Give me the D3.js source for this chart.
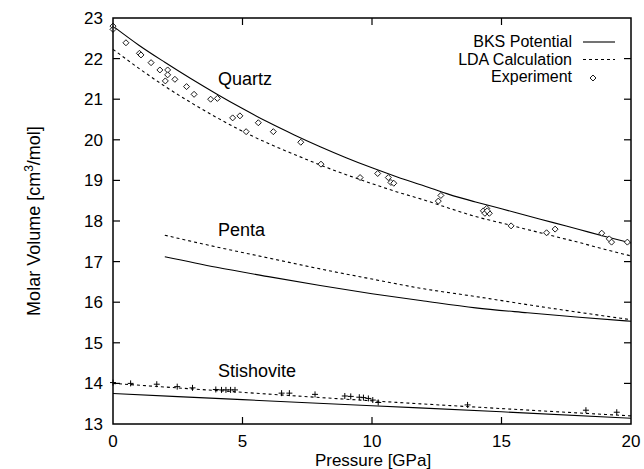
<!DOCTYPE html>
<html>
<head>
<meta charset="utf-8">
<script src="https://cdn.jsdelivr.net/npm/d3@7"></script>
<style>
body{margin:0;background:#fff;}
text{font-family:"Liberation Sans",Arial,sans-serif;fill:#000;}
</style>
</head>
<body>
<svg id="chart" width="644" height="469"></svg>
<script>
// pressure samples for the model curves [GPa]
var quartzP   = [0,1,2,3,4,5,6,7,8,9,10,11,12,13,14,15,16,17,18,19,20];
var quartzBKS = [22.80,22.33,21.91,21.51,21.13,20.77,20.43,20.12,19.83,19.56,19.31,19.08,18.87,18.65,18.47,18.30,18.13,17.96,17.79,17.62,17.46];
var quartzLDA = [22.23,21.76,21.32,20.92,20.55,20.21,19.91,19.64,19.38,19.14,18.92,18.71,18.52,18.31,18.11,17.95,17.79,17.63,17.47,17.30,17.14];

var pentaP   = [2,4,6,8,10,12,14,16,18,20];
var pentaBKS = [17.12,16.86,16.63,16.41,16.21,16.03,15.86,15.74,15.63,15.53];
var pentaLDA = [17.65,17.36,17.09,16.82,16.57,16.33,16.14,15.94,15.75,15.57];

var stishP   = [0,5,10,15,20];
var stishBKS = [13.75,13.60,13.45,13.30,13.14];
var stishLDA = [14.00,13.78,13.57,13.38,13.20];

// experiment, quartz (diamonds)
var quartzExpP = [0,0,0.5,1.02,1.08,1.47,1.81,2.11,2.11,2.02,2.39,2.84,3.13,3.77,4.03,4.62,4.90,5.14,5.61,6.19,
                  7.25,8.03,9.54,10.22,10.63,10.73,10.84,12.66,12.56,14.30,14.43,14.36,14.53,14.45,15.37,16.74,17.07,18.87,19.16,19.25,19.86];
var quartzExpV = [22.80,22.72,22.39,22.13,22.09,21.90,21.72,21.72,21.60,21.45,21.49,21.31,21.12,21.00,21.02,20.54,20.59,20.20,20.42,20.20,
                  19.94,19.40,19.07,19.17,19.07,18.95,18.93,18.63,18.49,18.25,18.31,18.19,18.19,18.25,17.88,17.71,17.80,17.70,17.56,17.48,17.48];

// experiment, stishovite (plus signs)
var stishExpP = [0,0.68,1.69,2.48,3.07,3.97,4.19,4.36,4.54,4.71,6.51,6.81,7.80,8.95,9.18,9.51,9.67,9.86,10.03,10.24,13.69,18.26,19.45];
var stishExpV = [14.02,14.00,13.98,13.92,13.89,13.85,13.84,13.84,13.84,13.84,13.76,13.76,13.73,13.69,13.68,13.66,13.65,13.63,13.59,13.53,13.47,13.34,13.29];

var xTicks = [0,5,10,15,20];
var yTicks = [13,14,15,16,17,18,19,20,21,22,23];

var phaseNames = ["Quartz","Penta","Stishovite"];
var phaseLabelAt = [[4.05,21.35],[4.05,17.63],[4.05,14.16]];

var legendNames = ["BKS Potential","LDA Calculation","Experiment"];

var svg = d3.select("#chart");

var x = d3.scaleLinear().domain([0,20]).range([113,631]);
var y = d3.scaleLinear().domain([13,23]).range([424,18]);

var line = d3.line()
    .x(function(d){ return x(d[0]); })
    .y(function(d){ return y(d[1]); })
    .curve(d3.curveMonotoneX);

function zip(a,b){
    return a.map(function(v,i){ return [v,b[i]]; });
}

var curves = [
    {pts:zip(quartzP,quartzBKS), dash:null},
    {pts:zip(quartzP,quartzLDA), dash:"3,3"},
    {pts:zip(pentaP,pentaBKS),   dash:null},
    {pts:zip(pentaP,pentaLDA),   dash:"3,3"},
    {pts:zip(stishP,stishBKS),   dash:null},
    {pts:zip(stishP,stishLDA),   dash:"3,3"}
];

svg.selectAll(".curve")
    .data(curves)
    .enter()
    .append("path")
    .attr("class","curve")
    .attr("d",function(d){ return line(d.pts); })
    .attr("fill","none")
    .attr("stroke","#000")
    .attr("stroke-width",1.1)
    .attr("stroke-dasharray",function(d){ return d.dash; });

// diamonds
var diamond = "M0,-3L3,0L0,3L-3,0Z";
svg.selectAll(".qexp")
    .data(zip(quartzExpP,quartzExpV))
    .enter()
    .append("path")
    .attr("class","qexp")
    .attr("d",diamond)
    .attr("transform",function(d){ return "translate("+x(d[0])+","+y(d[1])+")"; })
    .attr("fill","#fff")
    .attr("stroke","#000")
    .attr("stroke-width",0.9);

// plus signs
svg.selectAll(".sexp")
    .data(zip(stishExpP,stishExpV))
    .enter()
    .append("path")
    .attr("class","sexp")
    .attr("d","M-3,0H3M0,-3V3")
    .attr("transform",function(d){ return "translate("+x(d[0])+","+y(d[1])+")"; })
    .attr("fill","none")
    .attr("stroke","#000")
    .attr("stroke-width",1);

// frame
svg.append("rect")
    .attr("x",x(0))
    .attr("y",y(23))
    .attr("width",x(20)-x(0))
    .attr("height",y(13)-y(23))
    .attr("fill","none")
    .attr("stroke","#000")
    .attr("stroke-width",1.5);

// inward ticks on all four sides
var tl = 7;
xTicks.forEach(function(t){
    if(t==0 || t==20) return;
    svg.append("line").attr("x1",x(t)).attr("x2",x(t)).attr("y1",y(13)).attr("y2",y(13)-tl)
        .attr("stroke","#000").attr("stroke-width",1.2);
    svg.append("line").attr("x1",x(t)).attr("x2",x(t)).attr("y1",y(23)).attr("y2",y(23)+tl)
        .attr("stroke","#000").attr("stroke-width",1.2);
});
yTicks.forEach(function(t){
    if(t==13 || t==23) return;
    svg.append("line").attr("x1",x(0)).attr("x2",x(0)+tl).attr("y1",y(t)).attr("y2",y(t))
        .attr("stroke","#000").attr("stroke-width",1.2);
    svg.append("line").attr("x1",x(20)).attr("x2",x(20)-tl).attr("y1",y(t)).attr("y2",y(t))
        .attr("stroke","#000").attr("stroke-width",1.2);
});

// tick labels
svg.selectAll(".xlab")
    .data(xTicks)
    .enter()
    .append("text")
    .attr("class","xlab")
    .attr("x",function(d){ return x(d); })
    .attr("y",447)
    .style("font-size","17px")
    .style("text-anchor","middle")
    .text(function(d){ return d; });

svg.selectAll(".ylab")
    .data(yTicks)
    .enter()
    .append("text")
    .attr("class","ylab")
    .attr("x",x(0)-10)
    .attr("y",function(d){ return y(d)+6; })
    .style("font-size","17px")
    .style("text-anchor","end")
    .text(function(d){ return d; });

// axis titles
svg.append("text")
    .attr("x",373)
    .attr("y",466)
    .style("font-size","17px")
    .style("text-anchor","middle")
    .text("Pressure [GPa]");

var yt = svg.append("text")
    .attr("transform","translate(40,221) rotate(-90)")
    .style("font-size","18px")
    .style("text-anchor","middle");
yt.append("tspan").text("Molar Volume [cm");
yt.append("tspan").attr("dy",-7).style("font-size","12px").text("3");
yt.append("tspan").attr("dy",7).text("/mol]");

// phase labels
svg.selectAll(".phase")
    .data(phaseNames)
    .enter()
    .append("text")
    .attr("class","phase")
    .attr("x",function(d,i){ return x(phaseLabelAt[i][0]); })
    .attr("y",function(d,i){ return y(phaseLabelAt[i][1]); })
    .style("font-size","18px")
    .text(function(d){ return d; });

// legend
for(var i=0; i<legendNames.length; i++){
    var ly = 47 + i*17.5;
    svg.append("text")
        .attr("x",572)
        .attr("y",ly)
        .style("font-size","16px")
        .style("text-anchor","end")
        .text(legendNames[i]);
    if(i<2){
        svg.append("line")
            .attr("x1",583).attr("x2",615)
            .attr("y1",ly-5).attr("y2",ly-5)
            .attr("stroke","#000")
            .attr("stroke-width",1.1)
            .attr("stroke-dasharray",i==1 ? "3,3" : null);
    }else{
        svg.append("path")
            .attr("d",diamond)
            .attr("transform","translate(593,"+(ly-4)+")")
            .attr("fill","#fff")
            .attr("stroke","#000")
            .attr("stroke-width",0.9);
    }
}
</script>
</body>
</html>
